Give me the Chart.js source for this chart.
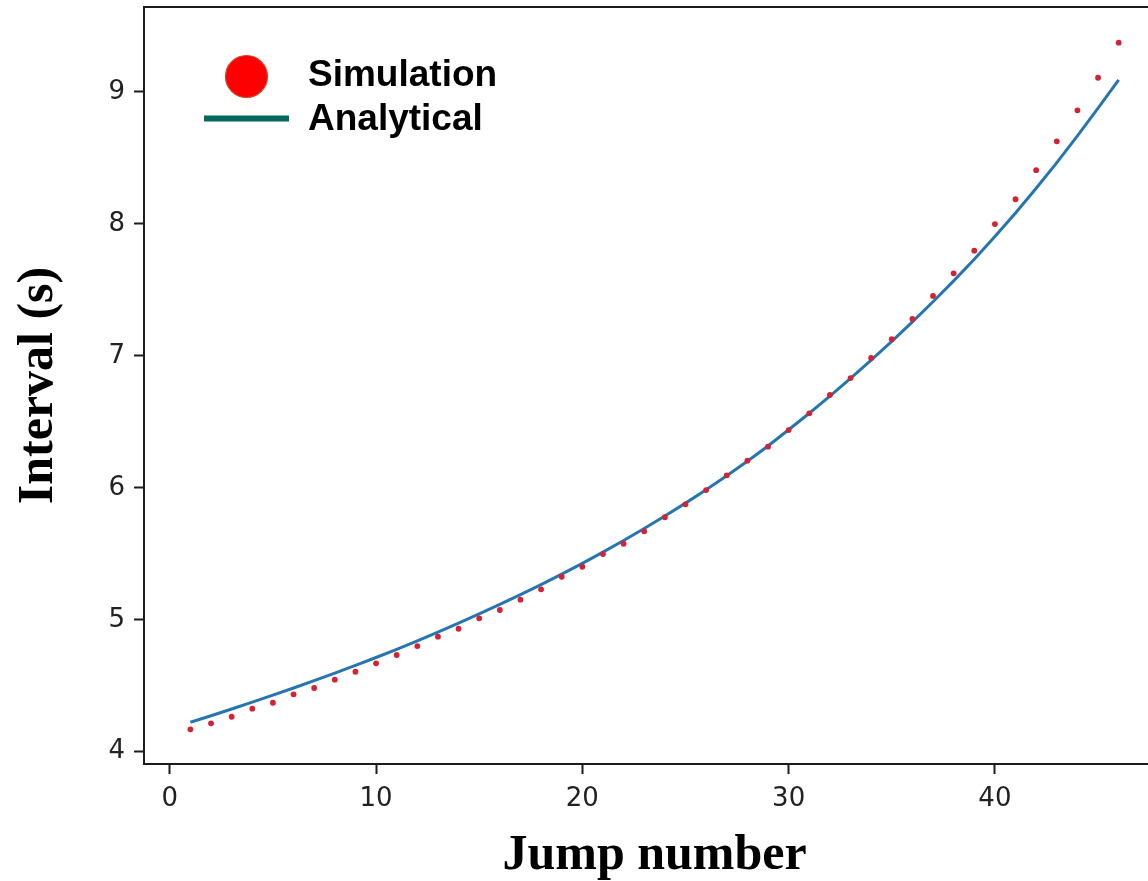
<!DOCTYPE html>
<html>
<head>
<meta charset="utf-8">
<script src="https://cdn.jsdelivr.net/npm/chart.js@4.4.0/dist/chart.umd.min.js"></script>
<style>
  html, body { margin: 0; padding: 0; background: #ffffff; overflow: hidden; }
  #wrap { position: relative; width: 1168px; height: 881px; }
  canvas { display: block; }
</style>
</head>
<body>
<div id="wrap"><canvas id="c" width="1168" height="881"></canvas></div>
<script>
// ---- data ----
const jumps = [1,2,3,4,5,6,7,8,9,10,11,12,13,14,15,16,17,18,19,20,21,22,23,24,25,26,27,28,29,30,31,32,33,34,35,36,37,38,39,40,41,42,43,44,45,46];
const simulation = [4.170,4.215,4.265,4.326,4.371,4.435,4.483,4.546,4.606,4.670,
                    4.733,4.801,4.872,4.932,5.011,5.074,5.152,5.231,5.326,5.402,
                    5.498,5.576,5.670,5.777,5.875,5.983,6.095,6.206,6.312,6.438,
                    6.565,6.704,6.832,6.984,7.126,7.280,7.454,7.626,7.797,7.999,
                    8.187,8.407,8.626,8.861,9.108,9.374];
const analytical = [4.223,4.273,4.324,4.376,4.429,4.483,4.539,4.596,4.654,4.714,
                    4.776,4.840,4.906,4.974,5.044,5.116,5.190,5.267,5.346,5.428,
                    5.513,5.601,5.692,5.786,5.884,5.986,6.092,6.202,6.317,6.440,
                    6.565,6.695,6.830,6.968,7.110,7.258,7.410,7.568,7.733,7.904,
                    8.083,8.270,8.465,8.667,8.877,9.091];
const xTickValues = [0,10,20,30,40];
const yTickValues = [4,5,6,7,8,9];
const seriesLabels = ['Simulation','Analytical'];
const axisTitles = { x: 'Jump number', y: 'Interval (s)' };

const simPoints = jumps.map((j,i) => ({x: j, y: simulation[i]}));
const anaPoints = jumps.map((j,i) => ({x: j, y: analytical[i]}));

const AXIS = '#1c1c1c';

const framePlugin = {
  id: 'frame',
  afterDraw(chart) {
    const {ctx, chartArea} = chart;
    ctx.save();
    // top spine and right spine (matplotlib box)
    ctx.strokeStyle = AXIS;
    ctx.lineWidth = 2;
    ctx.beginPath();
    ctx.moveTo(chartArea.left - 1, chartArea.top);
    ctx.lineTo(chartArea.right, chartArea.top);
    ctx.lineTo(chartArea.right, chartArea.bottom);
    ctx.stroke();

    // legend (inside the axes, upper left)
    ctx.fillStyle = '#ff0000';
    ctx.strokeStyle = '#c94a2a';
    ctx.lineWidth = 1.2;
    ctx.beginPath();
    ctx.arc(246.5, 76.5, 21, 0, Math.PI * 2);
    ctx.fill();
    ctx.stroke();

    ctx.strokeStyle = '#04695d';
    ctx.lineWidth = 6;
    ctx.beginPath();
    ctx.moveTo(204, 118.5);
    ctx.lineTo(289, 118.5);
    ctx.stroke();

    ctx.fillStyle = '#000000';
    ctx.font = 'bold 37px "Liberation Sans", Arial, sans-serif';
    ctx.textAlign = 'left';
    ctx.textBaseline = 'alphabetic';
    ctx.fillText(chart.data.datasets[0].label, 308, 86);
    ctx.fillText(chart.data.datasets[1].label, 308, 130);
    ctx.restore();
  }
};

new Chart(document.getElementById('c'), {
  type: 'scatter',
  data: {
    datasets: [
      {
        label: seriesLabels[0],
        data: simPoints,
        showLine: false,
        pointRadius: 2.9,
        pointHoverRadius: 2.9,
        pointBackgroundColor: '#d42234',
        pointBorderWidth: 0,
        borderColor: '#d42234'
      },
      {
        label: seriesLabels[1],
        data: anaPoints,
        showLine: true,
        pointRadius: 0,
        borderColor: '#2576b0',
        borderWidth: 3,
        tension: 0
      }
    ]
  },
  options: {
    responsive: false,
    animation: false,
    devicePixelRatio: 1,
    layout: { padding: { top: 7, right: 2, left: 0, bottom: 0 } },
    plugins: {
      legend: { display: false },
      tooltip: { enabled: false }
    },
    scales: {
      x: {
        type: 'linear',
        min: -1.25,
        max: 48.25,
        afterBuildTicks(scale) { scale.ticks = xTickValues.map(v => ({ value: v })); },
        afterFit(scale) {
          scale.height = 117;
          scale.paddingLeft = 0; scale.paddingRight = 0;
          scale.paddingTop = 0; scale.paddingBottom = 0;
        },
        ticks: {
          includeBounds: false,
          padding: 10,
          color: '#222222',
          font: { family: '"DejaVu Sans", sans-serif', size: 26 },
          maxRotation: 0,
          autoSkip: false
        },
        grid: {
          drawOnChartArea: false,
          drawTicks: true,
          tickLength: 10,
          tickWidth: 2,
          tickColor: AXIS
        },
        border: { display: true, color: AXIS, width: 2 },
        title: {
          display: true,
          text: axisTitles.x,
          color: '#000000',
          font: { family: '"Liberation Serif", "Times New Roman", serif', size: 50, weight: 'bold', lineHeight: 1 },
          padding: { top: 0, bottom: 0 }
        }
      },
      y: {
        type: 'linear',
        min: 3.907,
        max: 9.644,
        afterBuildTicks(scale) { scale.ticks = yTickValues.map(v => ({ value: v })); },
        afterFit(scale) {
          scale.width = 144;
          scale.paddingLeft = 0; scale.paddingRight = 0;
          scale.paddingTop = 0; scale.paddingBottom = 0;
        },
        ticks: {
          includeBounds: false,
          padding: 9,
          color: '#222222',
          font: { family: '"DejaVu Sans", sans-serif', size: 26 },
          autoSkip: false
        },
        grid: {
          drawOnChartArea: false,
          drawTicks: true,
          tickLength: 10,
          tickWidth: 2,
          tickColor: AXIS
        },
        border: { display: true, color: AXIS, width: 2 },
        title: {
          display: true,
          text: axisTitles.y,
          color: '#000000',
          font: { family: '"Liberation Serif", "Times New Roman", serif', size: 50, weight: 'bold', lineHeight: 1 },
          padding: { top: 14, bottom: 0 }
        }
      }
    }
  },
  plugins: [framePlugin]
});
</script>
</body>
</html>
